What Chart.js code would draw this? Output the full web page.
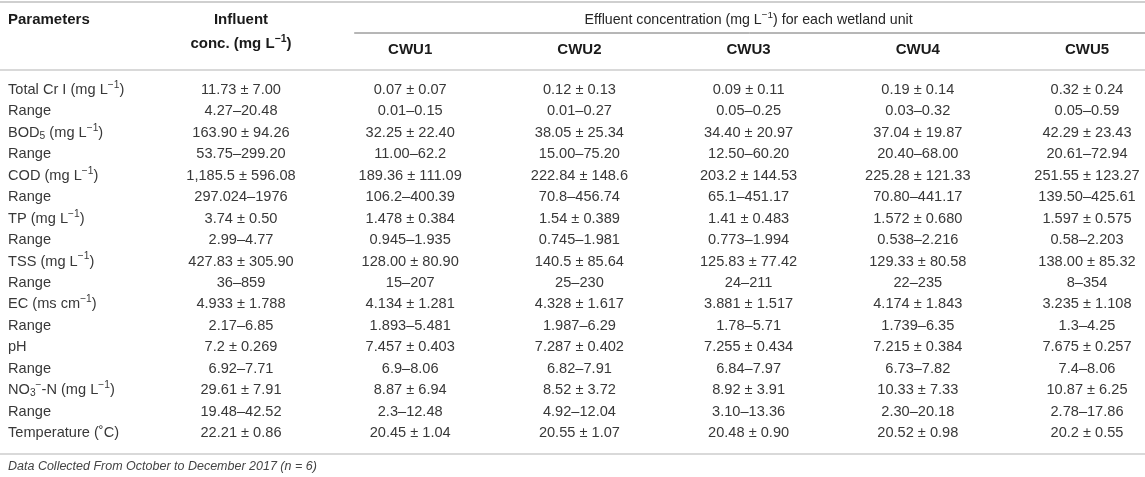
<!DOCTYPE html>
<html><head><meta charset="utf-8">
<script src="https://cdn.jsdelivr.net/npm/chart.js@4/dist/chart.umd.min.js"></script>
<style>html,body{margin:0;padding:0;background:#fff;overflow:hidden}#wrap{width:1145px;height:477px;position:relative}</style>
</head><body><div id="wrap"><canvas id="c"></canvas></div>
<script>
// ---- table content ----
const rowLabels = ["Total Cr I (mg L^{−1})","Range","BOD_{5} (mg L^{−1})","Range","COD (mg L^{−1})","Range","TP (mg L^{−1})","Range","TSS (mg L^{−1})","Range","EC (ms cm^{−1})","Range","pH","Range","NO_{3}^{−}-N (mg L^{−1})","Range","Temperature (˚C)"];
const columns = ["Influent","CWU1","CWU2","CWU3","CWU4","CWU5"];
const unitLabels = ["CWU1","CWU2","CWU3","CWU4","CWU5"];
const influent = ["11.73 ± 7.00","4.27–20.48","163.90 ± 94.26","53.75–299.20","1,185.5 ± 596.08","297.024–1976","3.74 ± 0.50","2.99–4.77","427.83 ± 305.90","36–859","4.933 ± 1.788","2.17–6.85","7.2 ± 0.269","6.92–7.71","29.61 ± 7.91","19.48–42.52","22.21 ± 0.86"];
const cwu1 = ["0.07 ± 0.07","0.01–0.15","32.25 ± 22.40","11.00–62.2","189.36 ± 111.09","106.2–400.39","1.478 ± 0.384","0.945–1.935","128.00 ± 80.90","15–207","4.134 ± 1.281","1.893–5.481","7.457 ± 0.403","6.9–8.06","8.87 ± 6.94","2.3–12.48","20.45 ± 1.04"];
const cwu2 = ["0.12 ± 0.13","0.01–0.27","38.05 ± 25.34","15.00–75.20","222.84 ± 148.6","70.8–456.74","1.54 ± 0.389","0.745–1.981","140.5 ± 85.64","25–230","4.328 ± 1.617","1.987–6.29","7.287 ± 0.402","6.82–7.91","8.52 ± 3.72","4.92–12.04","20.55 ± 1.07"];
const cwu3 = ["0.09 ± 0.11","0.05–0.25","34.40 ± 20.97","12.50–60.20","203.2 ± 144.53","65.1–451.17","1.41 ± 0.483","0.773–1.994","125.83 ± 77.42","24–211","3.881 ± 1.517","1.78–5.71","7.255 ± 0.434","6.84–7.97","8.92 ± 3.91","3.10–13.36","20.48 ± 0.90"];
const cwu4 = ["0.19 ± 0.14","0.03–0.32","37.04 ± 19.87","20.40–68.00","225.28 ± 121.33","70.80–441.17","1.572 ± 0.680","0.538–2.216","129.33 ± 80.58","22–235","4.174 ± 1.843","1.739–6.35","7.215 ± 0.384","6.73–7.82","10.33 ± 7.33","2.30–20.18","20.52 ± 0.98"];
const cwu5 = ["0.32 ± 0.24","0.05–0.59","42.29 ± 23.43","20.61–72.94","251.55 ± 123.27","139.50–425.61","1.597 ± 0.575","0.58–2.203","138.00 ± 85.32","8–354","3.235 ± 1.108","1.3–4.25","7.675 ± 0.257","7.4–8.06","10.87 ± 6.25","2.78–17.86","20.2 ± 0.55"];
const headParam = "Parameters";
const headInfluent = ["Influent","conc. (mg L^{−1})"];
const headEffluent = "Effluent concentration (mg L^{−1}) for each wetland unit";
const footNote = "Data Collected From October to December 2017 (n = 6)";

const series = [influent, cwu1, cwu2, cwu3, cwu4, cwu5];

// ---- rich text helper ----
const FAM = '"Liberation Sans", Arial, Helvetica, sans-serif';
function parseRich(s){
  const out=[]; const re=/([\^_])\{([^}]*)\}/g; let last=0, m;
  while((m=re.exec(s))){
    if(m.index>last) out.push({t:s.slice(last,m.index),k:'n'});
    out.push({t:m[2],k:m[1]==='^'?'sup':'sub'});
    last=re.lastIndex;
  }
  if(last<s.length) out.push({t:s.slice(last),k:'n'});
  return out;
}
function drawRich(ctx,s,x,y,o){
  const size=o.size||14, weight=o.weight||'normal', style=o.style||'normal';
  const font=(sz)=>`${style} ${weight} ${sz}px ${FAM}`;
  const segs=parseRich(s);
  let w=0;
  segs.forEach(g=>{ctx.font=font(g.k==='n'?size:size*0.7); g.w=ctx.measureText(g.t).width; w+=g.w;});
  let cx = o.align==='center'? x-w/2 : (o.align==='right'? x-w : x);
  ctx.textBaseline='middle'; ctx.textAlign='left'; ctx.fillStyle=o.color||'#333';
  segs.forEach(g=>{
    ctx.font=font(g.k==='n'?size:size*0.7);
    const dy = g.k==='sup'? -size*0.33 : (g.k==='sub'? size*0.22 : 0);
    ctx.fillText(g.t,cx,y+dy); cx+=g.w;
  });
}

const DATA_SIZE = 14.6, HEAD_SIZE = 15;

const tablePlugin = {
  id:'tablePlugin',
  afterDatasetsDraw(chart){
    const ctx=chart.ctx, xs=chart.scales.x, ys=chart.scales.y, ca=chart.chartArea;
    ctx.save();
    const rule=(x1,x2,y,c,w)=>{ctx.beginPath();ctx.strokeStyle=c;ctx.lineWidth=w;ctx.moveTo(x1,y);ctx.lineTo(x2,y);ctx.stroke();};
    rule(0,chart.width,ca.top-77,'#cfcfcf',2);
    rule(0,chart.width,ca.top-9,'#d9d9d9',2);
    rule(xs.getPixelForValue(1)-56,chart.width,ca.top-46,'#6f6f6f',1);
    rule(0,chart.width,ca.bottom+10,'#d9d9d9',2);
    const hb={size:HEAD_SIZE,weight:'bold',color:'#1a1a1a'};
    drawRich(ctx,headParam,8,ca.top-59,Object.assign({align:'left'},hb));
    drawRich(ctx,headInfluent[0],xs.getPixelForValue(0),ca.top-59,Object.assign({align:'center'},hb));
    drawRich(ctx,headInfluent[1],xs.getPixelForValue(0),ca.top-35,Object.assign({align:'center'},hb));
    drawRich(ctx,headEffluent,(xs.getPixelForValue(1)+xs.getPixelForValue(5))/2,ca.top-59,{align:'center',size:14.2,color:'#262626'});
    unitLabels.forEach((u,i)=>drawRich(ctx,u,xs.getPixelForValue(i+1),ca.top-29,Object.assign({align:'center'},hb)));
    rowLabels.forEach((r,i)=>drawRich(ctx,r,8,ys.getPixelForValue(i),{align:'left',size:DATA_SIZE,color:'#383838'}));
    chart.data.datasets.forEach((ds,di)=>{
      const meta=chart.getDatasetMeta(di);
      meta.data.forEach((el,j)=>drawRich(ctx,ds.data[j].text,el.x,el.y,{align:'center',size:DATA_SIZE,color:'#383838'}));
    });
    drawRich(ctx,footNote,8,ca.bottom+23,{align:'left',size:12.5,style:'italic',color:'#444'});
    ctx.restore();
  }
};

new Chart(document.getElementById('c'),{
  type:'scatter',
  data:{
    datasets: series.map((col,c)=>({
      label: columns[c],
      data: col.map((v,i)=>({x:columns[c], y:i, text:v})),
      pointRadius:0, pointHoverRadius:0, showLine:false
    }))
  },
  options:{
    responsive:true, maintainAspectRatio:false, animation:false,
    layout:{padding:{top:79,bottom:33,left:241,right:58}},
    plugins:{legend:{display:false},tooltip:{enabled:false}},
    events:[],
    scales:{
      x:{type:'category',labels:columns,offset:false,display:false},
      y:{type:'linear',reverse:true,min:-0.5,max:16.5,display:false}
    }
  },
  plugins:[tablePlugin]
});
</script>
</body></html>
